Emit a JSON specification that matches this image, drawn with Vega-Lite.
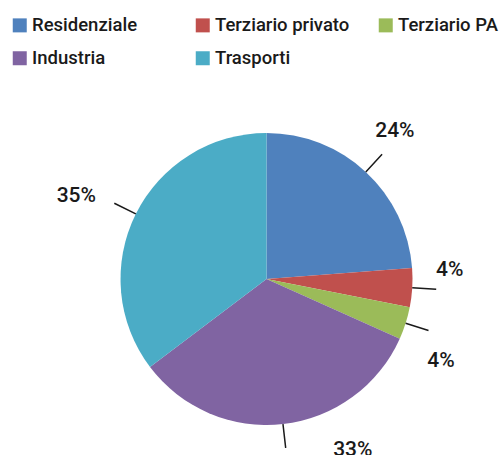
{
  "$schema": "https://vega.github.io/schema/vega-lite/v6.json",
  "width": 299,
  "height": 300,
  "autosize": {"type": "none"},
  "padding": {"left": 117, "top": 129, "right": 85, "bottom": 26},
  "background": "white",
  "view": {"stroke": null},
  "data": {
    "values": [
      {"cat": "Residenziale", "share": 0.238, "k": 1},
      {"cat": "Terziario privato", "share": 0.043, "k": 2},
      {"cat": "Terziario PA", "share": 0.036, "k": 3},
      {"cat": "Industria", "share": 0.330, "k": 4},
      {"cat": "Trasporti", "share": 0.353, "k": 5}
    ]
  },
  "encoding": {
    "theta": {"field": "share", "type": "quantitative", "stack": true},
    "order": {"field": "k", "type": "quantitative"}
  },
  "layer": [
    {
      "mark": {"type": "arc", "outerRadius": 146},
      "encoding": {
        "color": {
          "field": "cat",
          "type": "nominal",
          "scale": {
            "domain": ["Residenziale", "Terziario privato", "Terziario PA", "Industria", "Trasporti"],
            "range": ["#4F81BD", "#C0504D", "#9BBB59", "#8064A2", "#4BACC6"]
          },
          "legend": {
            "title": null,
            "orient": "none",
            "legendX": -106.5,
            "legendY": -113,
            "direction": "horizontal",
            "columns": 3,
            "gridAlign": "all",
            "columnPadding": 27,
            "rowPadding": 14,
            "padding": 0,
            "symbolType": "square",
            "symbolSize": 196,
            "symbolStrokeWidth": 0,
            "labelFont": "Roboto",
            "labelFontSize": 18.5,
            "labelFontWeight": 500,
            "labelColor": "#1a1a1a",
            "labelOffset": 3,
            "labelLimit": 0
          }
        }
      }
    },
    {
      "mark": {"type": "arc", "innerRadius": 146, "outerRadius": 170, "padAngle": 3.1, "filled": false, "fill": null, "stroke": "#1a1a1a", "strokeWidth": 1.5},
      "encoding": {"detail": {"field": "cat", "type": "nominal"}}
    },
    {
      "mark": {"type": "text", "radius": 180, "font": "Roboto", "fontSize": 21, "fontWeight": 500, "color": "#1a1a1a", "align": "center", "baseline": "middle", "dx": 6, "dy": -16},
      "encoding": {
        "detail": {"field": "cat", "type": "nominal"},
        "text": {"condition": {"test": "datum.cat === 'Residenziale'", "field": "share", "type": "quantitative", "format": ".0%"}, "value": ""}
      }
    },
    {
      "mark": {"type": "text", "radius": 180, "font": "Roboto", "fontSize": 21, "fontWeight": 500, "color": "#1a1a1a", "align": "center", "baseline": "middle", "dx": 3.5, "dy": -19.5},
      "encoding": {
        "detail": {"field": "cat", "type": "nominal"},
        "text": {"condition": {"test": "datum.cat === 'Terziario privato'", "field": "share", "type": "quantitative", "format": ".0%"}, "value": ""}
      }
    },
    {
      "mark": {"type": "text", "radius": 180, "font": "Roboto", "fontSize": 21, "fontWeight": 500, "color": "#1a1a1a", "align": "center", "baseline": "middle", "dx": 3, "dy": 27.5},
      "encoding": {
        "detail": {"field": "cat", "type": "nominal"},
        "text": {"condition": {"test": "datum.cat === 'Terziario PA'", "field": "share", "type": "quantitative", "format": ".0%"}, "value": ""}
      }
    },
    {
      "mark": {"type": "text", "radius": 180, "font": "Roboto", "fontSize": 21, "fontWeight": 500, "color": "#1a1a1a", "align": "center", "baseline": "middle", "dx": 66, "dy": -8},
      "encoding": {
        "detail": {"field": "cat", "type": "nominal"},
        "text": {"condition": {"test": "datum.cat === 'Industria'", "field": "share", "type": "quantitative", "format": ".0%"}, "value": ""}
      }
    },
    {
      "mark": {"type": "text", "radius": 180, "font": "Roboto", "fontSize": 21, "fontWeight": 500, "color": "#1a1a1a", "align": "center", "baseline": "middle", "dx": -29, "dy": -3},
      "encoding": {
        "detail": {"field": "cat", "type": "nominal"},
        "text": {"condition": {"test": "datum.cat === 'Trasporti'", "field": "share", "type": "quantitative", "format": ".0%"}, "value": ""}
      }
    }
  ]
}
